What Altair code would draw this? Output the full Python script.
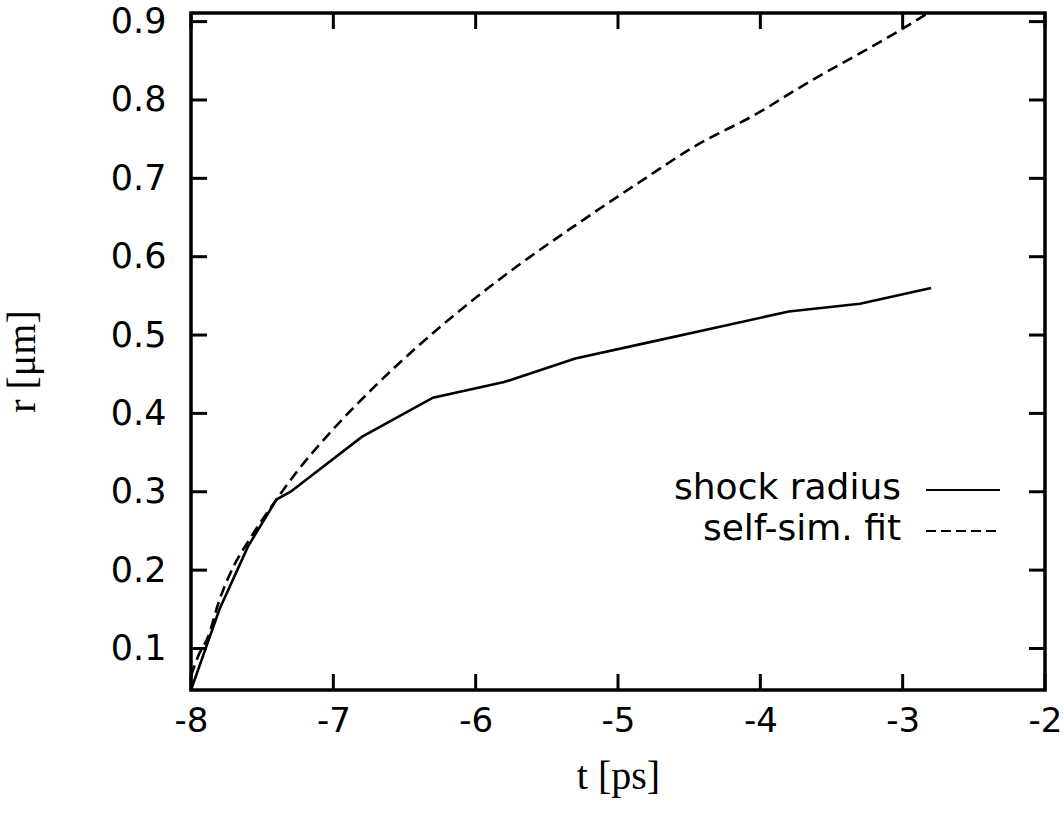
import altair as alt
import pandas as pd

# shock radius (solid)
shock_t = [-8.0, -7.8, -7.6, -7.4, -7.3, -6.8, -6.3, -5.8, -5.3, -4.8, -4.3, -3.8, -3.3, -2.8]
shock_r = [0.047, 0.15, 0.23, 0.29, 0.30, 0.37, 0.42, 0.44, 0.47, 0.49, 0.51, 0.53, 0.54, 0.56]

# self-similar fit (dashed)
fit_t = [-8.0, -7.95, -7.88, -7.8, -7.7, -7.6, -7.4, -7.25, -7.0, -6.7, -6.2, -5.7, -5.3,
         -4.85, -4.45, -4.0, -3.75, -3.0, -2.82]
fit_r = [0.065, 0.09, 0.115, 0.162, 0.205, 0.236, 0.29, 0.327, 0.38, 0.436, 0.518, 0.589,
         0.640, 0.695, 0.742, 0.785, 0.813, 0.891, 0.911]

x_ticks = [-8, -7, -6, -5, -4, -3, -2]
y_ticks = [0.1, 0.2, 0.3, 0.4, 0.5, 0.6, 0.7, 0.8, 0.9]
legend_labels = ["shock radius", "self-sim. fit"]

W, H = 854, 677
X_DOM = [-8, -2]
Y_DOM = [0.047, 0.911]
TICK = 16
SANS = "DejaVu Sans"
SERIF = "Liberation Serif"

xscale = alt.Scale(domain=X_DOM, nice=False, zero=False)
yscale = alt.Scale(domain=Y_DOM, nice=False, zero=False)

xaxis = alt.Axis(values=x_ticks, labelExpr="'' + datum.value", ticks=False, domain=False,
                 grid=False, labelFont=SANS, labelFontSize=34, labelColor="black",
                 labelPadding=31, labelBaseline="middle", labelFlush=False,
                 title="t [ps]", titleFont=SERIF, titleFontSize=40,
                 titleFontWeight="normal", titleColor="black",
                 titleX=427, titleY=86, titleBaseline="middle", titleAlign="center")
yaxis = alt.Axis(values=y_ticks, format=".1f", ticks=False, domain=False, grid=False,
                 labelFont=SANS, labelFontSize=35, labelColor="black",
                 labelPadding=25, labelFlush=False,
                 title="r [μm]", titleFont=SERIF, titleFontSize=40,
                 titleFontWeight="normal", titleColor="black",
                 titleX=-169, titleY=348, titleBaseline="middle", titleAlign="center")

df_shock = pd.DataFrame({"t": shock_t, "r": shock_r})
df_fit = pd.DataFrame({"t": fit_t, "r": fit_r})

shock = alt.Chart(df_shock).mark_line(color="black", strokeWidth=2.6, clip=True).encode(
    x=alt.X("t:Q", scale=xscale, axis=xaxis),
    y=alt.Y("r:Q", scale=yscale, axis=yaxis),
)
fit = alt.Chart(df_fit).mark_line(color="black", strokeWidth=2.6, strokeDash=[11, 6],
                                  interpolate="monotone", clip=True).encode(
    x=alt.X("t:Q", scale=xscale),
    y=alt.Y("r:Q", scale=yscale),
)

df_xt = pd.DataFrame({"t": x_ticks})
df_yt = pd.DataFrame({"r": y_ticks})
tick_style = dict(color="black", strokeWidth=3)
xt_bottom = alt.Chart(df_xt).mark_rule(**tick_style).encode(
    x=alt.X("t:Q", scale=xscale), y=alt.value(H), y2=alt.value(H - TICK))
xt_top = alt.Chart(df_xt).mark_rule(**tick_style).encode(
    x=alt.X("t:Q", scale=xscale), y=alt.value(0), y2=alt.value(TICK))
yt_left = alt.Chart(df_yt).mark_rule(**tick_style).encode(
    y=alt.Y("r:Q", scale=yscale), x=alt.value(0), x2=alt.value(TICK))
yt_right = alt.Chart(df_yt).mark_rule(**tick_style).encode(
    y=alt.Y("r:Q", scale=yscale), x=alt.value(W - TICK), x2=alt.value(W))

one = pd.DataFrame({"k": [0]})
legend_layers = []
for i, (lab, dash) in enumerate(zip(legend_labels, [[1, 0], [10, 5]])):
    ly = 477 + i * 41
    legend_layers.append(
        alt.Chart(one).mark_text(font=SANS, fontSize=36, align="right", baseline="middle",
                                 color="black").encode(
            x=alt.value(710), y=alt.value(ly - 2), text=alt.value(lab)))
    legend_layers.append(
        alt.Chart(one).mark_rule(color="black", strokeWidth=2.2, strokeDash=dash).encode(
            x=alt.value(735), x2=alt.value(809), y=alt.value(ly)))

chart = alt.layer(shock, fit, xt_bottom, xt_top, yt_left, yt_right, *legend_layers).properties(
    width=W, height=H,
    autosize=alt.AutoSizeParams(type="none"),
    padding={"left": 191, "top": 13, "right": 18, "bottom": 123},
    background="white",
).configure_view(stroke="black", strokeWidth=3.5)

chart.save("out.html", embed_options={"renderer": "svg", "actions": False})
